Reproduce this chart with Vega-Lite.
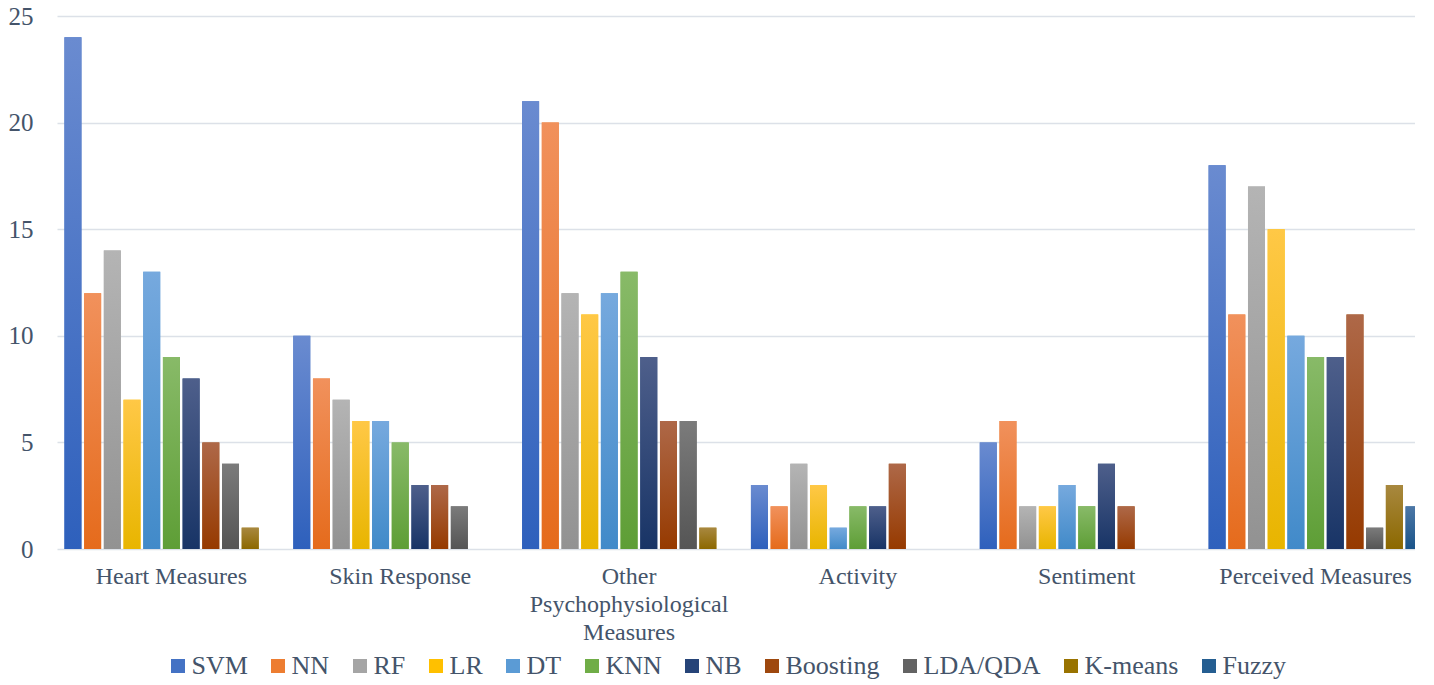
{
  "$schema": "https://vega.github.io/schema/vega-lite/v6.json",
  "autosize": {"type": "none"},
  "padding": {"left": 57, "top": 16, "right": 0, "bottom": 136},
  "width": 1358,
  "height": 533,
  "config": {
    "view": {"stroke": null}
  },
  "data": {
    "values": [
      {"category": "Heart Measures", "method": "SVM", "value": 24},
      {"category": "Heart Measures", "method": "NN", "value": 12},
      {"category": "Heart Measures", "method": "RF", "value": 14},
      {"category": "Heart Measures", "method": "LR", "value": 7},
      {"category": "Heart Measures", "method": "DT", "value": 13},
      {"category": "Heart Measures", "method": "KNN", "value": 9},
      {"category": "Heart Measures", "method": "NB", "value": 8},
      {"category": "Heart Measures", "method": "Boosting", "value": 5},
      {"category": "Heart Measures", "method": "LDA/QDA", "value": 4},
      {"category": "Heart Measures", "method": "K-means", "value": 1},
      {"category": "Heart Measures", "method": "Fuzzy", "value": 0},
      {"category": "Skin Response", "method": "SVM", "value": 10},
      {"category": "Skin Response", "method": "NN", "value": 8},
      {"category": "Skin Response", "method": "RF", "value": 7},
      {"category": "Skin Response", "method": "LR", "value": 6},
      {"category": "Skin Response", "method": "DT", "value": 6},
      {"category": "Skin Response", "method": "KNN", "value": 5},
      {"category": "Skin Response", "method": "NB", "value": 3},
      {"category": "Skin Response", "method": "Boosting", "value": 3},
      {"category": "Skin Response", "method": "LDA/QDA", "value": 2},
      {"category": "Skin Response", "method": "K-means", "value": 0},
      {"category": "Skin Response", "method": "Fuzzy", "value": 0},
      {"category": "Other Psychophysiological Measures", "method": "SVM", "value": 21},
      {"category": "Other Psychophysiological Measures", "method": "NN", "value": 20},
      {"category": "Other Psychophysiological Measures", "method": "RF", "value": 12},
      {"category": "Other Psychophysiological Measures", "method": "LR", "value": 11},
      {"category": "Other Psychophysiological Measures", "method": "DT", "value": 12},
      {"category": "Other Psychophysiological Measures", "method": "KNN", "value": 13},
      {"category": "Other Psychophysiological Measures", "method": "NB", "value": 9},
      {"category": "Other Psychophysiological Measures", "method": "Boosting", "value": 6},
      {"category": "Other Psychophysiological Measures", "method": "LDA/QDA", "value": 6},
      {"category": "Other Psychophysiological Measures", "method": "K-means", "value": 1},
      {"category": "Other Psychophysiological Measures", "method": "Fuzzy", "value": 0},
      {"category": "Activity", "method": "SVM", "value": 3},
      {"category": "Activity", "method": "NN", "value": 2},
      {"category": "Activity", "method": "RF", "value": 4},
      {"category": "Activity", "method": "LR", "value": 3},
      {"category": "Activity", "method": "DT", "value": 1},
      {"category": "Activity", "method": "KNN", "value": 2},
      {"category": "Activity", "method": "NB", "value": 2},
      {"category": "Activity", "method": "Boosting", "value": 4},
      {"category": "Activity", "method": "LDA/QDA", "value": 0},
      {"category": "Activity", "method": "K-means", "value": 0},
      {"category": "Activity", "method": "Fuzzy", "value": 0},
      {"category": "Sentiment", "method": "SVM", "value": 5},
      {"category": "Sentiment", "method": "NN", "value": 6},
      {"category": "Sentiment", "method": "RF", "value": 2},
      {"category": "Sentiment", "method": "LR", "value": 2},
      {"category": "Sentiment", "method": "DT", "value": 3},
      {"category": "Sentiment", "method": "KNN", "value": 2},
      {"category": "Sentiment", "method": "NB", "value": 4},
      {"category": "Sentiment", "method": "Boosting", "value": 2},
      {"category": "Sentiment", "method": "LDA/QDA", "value": 0},
      {"category": "Sentiment", "method": "K-means", "value": 0},
      {"category": "Sentiment", "method": "Fuzzy", "value": 0},
      {"category": "Perceived Measures", "method": "SVM", "value": 18},
      {"category": "Perceived Measures", "method": "NN", "value": 11},
      {"category": "Perceived Measures", "method": "RF", "value": 17},
      {"category": "Perceived Measures", "method": "LR", "value": 15},
      {"category": "Perceived Measures", "method": "DT", "value": 10},
      {"category": "Perceived Measures", "method": "KNN", "value": 9},
      {"category": "Perceived Measures", "method": "NB", "value": 9},
      {"category": "Perceived Measures", "method": "Boosting", "value": 11},
      {"category": "Perceived Measures", "method": "LDA/QDA", "value": 1},
      {"category": "Perceived Measures", "method": "K-means", "value": 3},
      {"category": "Perceived Measures", "method": "Fuzzy", "value": 2}
    ]
  },
  "encoding": {
    "x": {
      "field": "category",
      "type": "nominal",
      "sort": null,
      "scale": {"range": [0, 1373], "paddingInner": 0.065, "paddingOuter": 0.0325},
      "axis": {
        "title": null,
        "labelAngle": 0,
        "labelFont": "Liberation Serif",
        "labelFontSize": 24,
        "labelColor": "#44546A",
        "labelLineHeight": 28,
        "labelPadding": 15,
        "labelExpr": "datum.value == 'Other Psychophysiological Measures' ? ['Other', 'Psychophysiological', 'Measures'] : datum.value",
        "domain": false,
        "ticks": false,
        "labelLimit": 400
      }
    },
    "xOffset": {
      "field": "method",
      "type": "nominal",
      "scale": {
        "domain": ["SVM", "NN", "RF", "LR", "DT", "KNN", "NB", "Boosting", "LDA/QDA", "K-means", "Fuzzy"],
        "paddingInner": 0.137,
        "paddingOuter": 0
      }
    },
    "y": {
      "field": "value",
      "type": "quantitative",
      "scale": {"domain": [0, 25]},
      "axis": {
        "title": null,
        "values": [0, 5, 10, 15, 20, 25],
        "labelFont": "Liberation Serif",
        "labelFontSize": 25,
        "labelColor": "#44546A",
        "labelPadding": 24,
        "domain": false,
        "ticks": false,
        "gridColor": "#DCE1E8",
        "gridWidth": 1.5
      }
    }
  },
  "layer": [
    {
      "mark": {"type": "bar", "clip": true},
      "encoding": {
        "color": {
          "field": "method",
          "type": "nominal",
          "scale": {
            "domain": ["SVM", "NN", "RF", "LR", "DT", "KNN", "NB", "Boosting", "LDA/QDA", "K-means", "Fuzzy"],
            "range": ["#4472C4", "#ED7D31", "#A5A5A5", "#FFC000", "#5B9BD5", "#70AD47", "#264478", "#9E480E", "#636363", "#997300", "#255E91"]
          },
          "legend": {
            "title": null,
            "orient": "none",
            "direction": "horizontal",
            "columns": 11,
            "legendX": 108,
            "legendY": 637,
            "symbolType": "square",
            "symbolSize": 196,
            "symbolStrokeWidth": 0,
            "labelFont": "Liberation Serif",
            "labelFontSize": 26,
            "labelColor": "#44546A",
            "labelOffset": 0.5,
            "columnPadding": 17,
            "labelLimit": 300
          }
        }
      }
    },
    {"transform": [{"filter": "datum.method === 'SVM'"}], "mark": {"type": "bar", "clip": true, "fill": {"gradient": "linear", "x1": 0, "y1": 0, "x2": 0, "y2": 1, "stops": [{"offset": 0, "color": "#6A8BD0"}, {"offset": 1, "color": "#2E60BC"}]}}},
    {"transform": [{"filter": "datum.method === 'NN'"}], "mark": {"type": "bar", "clip": true, "fill": {"gradient": "linear", "x1": 0, "y1": 0, "x2": 0, "y2": 1, "stops": [{"offset": 0, "color": "#F1915C"}, {"offset": 1, "color": "#E56B1C"}]}}},
    {"transform": [{"filter": "datum.method === 'RF'"}], "mark": {"type": "bar", "clip": true, "fill": {"gradient": "linear", "x1": 0, "y1": 0, "x2": 0, "y2": 1, "stops": [{"offset": 0, "color": "#B4B4B4"}, {"offset": 1, "color": "#929292"}]}}},
    {"transform": [{"filter": "datum.method === 'LR'"}], "mark": {"type": "bar", "clip": true, "fill": {"gradient": "linear", "x1": 0, "y1": 0, "x2": 0, "y2": 1, "stops": [{"offset": 0, "color": "#FFC846"}, {"offset": 1, "color": "#E8B500"}]}}},
    {"transform": [{"filter": "datum.method === 'DT'"}], "mark": {"type": "bar", "clip": true, "fill": {"gradient": "linear", "x1": 0, "y1": 0, "x2": 0, "y2": 1, "stops": [{"offset": 0, "color": "#76A9DE"}, {"offset": 1, "color": "#418AC9"}]}}},
    {"transform": [{"filter": "datum.method === 'KNN'"}], "mark": {"type": "bar", "clip": true, "fill": {"gradient": "linear", "x1": 0, "y1": 0, "x2": 0, "y2": 1, "stops": [{"offset": 0, "color": "#88BA68"}, {"offset": 1, "color": "#5E9E36"}]}}},
    {"transform": [{"filter": "datum.method === 'NB'"}], "mark": {"type": "bar", "clip": true, "fill": {"gradient": "linear", "x1": 0, "y1": 0, "x2": 0, "y2": 1, "stops": [{"offset": 0, "color": "#4E5F8B"}, {"offset": 1, "color": "#183466"}]}}},
    {"transform": [{"filter": "datum.method === 'Boosting'"}], "mark": {"type": "bar", "clip": true, "fill": {"gradient": "linear", "x1": 0, "y1": 0, "x2": 0, "y2": 1, "stops": [{"offset": 0, "color": "#AE6848"}, {"offset": 1, "color": "#963A00"}]}}},
    {"transform": [{"filter": "datum.method === 'LDA/QDA'"}], "mark": {"type": "bar", "clip": true, "fill": {"gradient": "linear", "x1": 0, "y1": 0, "x2": 0, "y2": 1, "stops": [{"offset": 0, "color": "#7B7B7B"}, {"offset": 1, "color": "#555555"}]}}},
    {"transform": [{"filter": "datum.method === 'K-means'"}], "mark": {"type": "bar", "clip": true, "fill": {"gradient": "linear", "x1": 0, "y1": 0, "x2": 0, "y2": 1, "stops": [{"offset": 0, "color": "#A8883F"}, {"offset": 1, "color": "#8C6800"}]}}},
    {"transform": [{"filter": "datum.method === 'Fuzzy'"}], "mark": {"type": "bar", "clip": true, "fill": {"gradient": "linear", "x1": 0, "y1": 0, "x2": 0, "y2": 1, "stops": [{"offset": 0, "color": "#4C77A6"}, {"offset": 1, "color": "#1A5489"}]}}}
  ]
}
